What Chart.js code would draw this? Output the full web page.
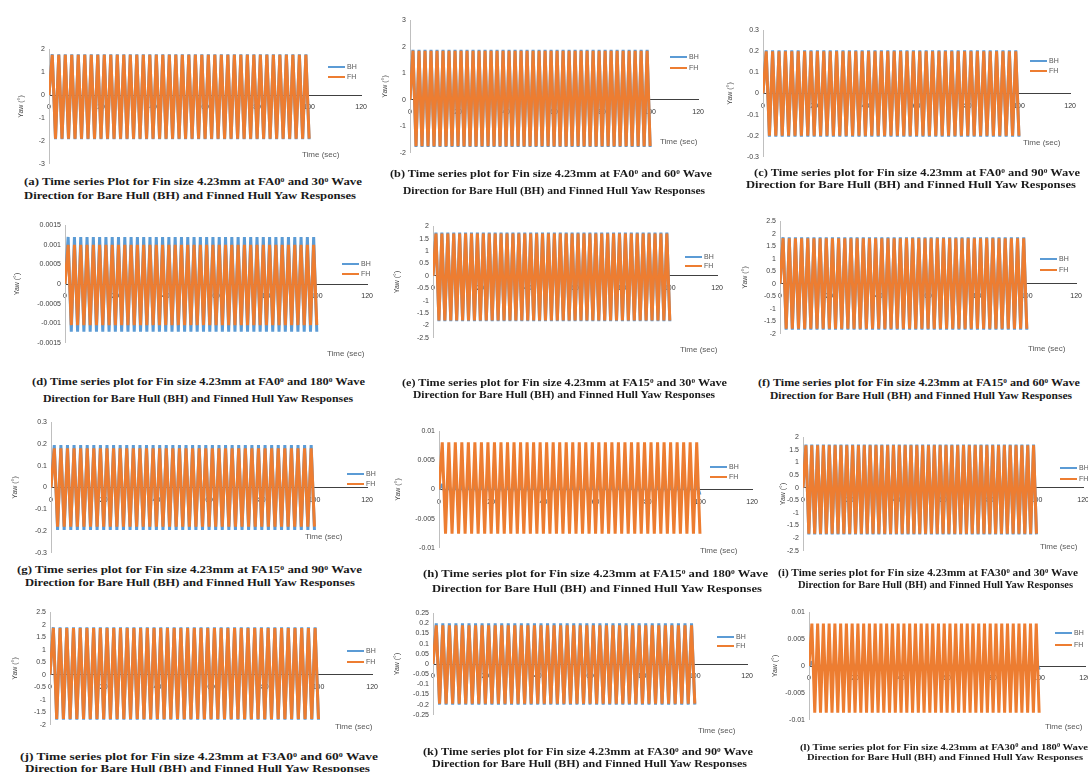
<!DOCTYPE html>
<html>
<head>
<meta charset="utf-8">
<script src="https://cdn.jsdelivr.net/npm/chart.js@4.4.1/dist/chart.umd.min.js"></script>
<style>
  html, body { margin: 0; padding: 0; background: #fff; }
  #page { width: 1088px; height: 772px; position: relative; overflow: hidden; }
  .cap { position: absolute; white-space: nowrap; font-family: "Liberation Serif", serif; font-weight: bold; color: #1a1a1a; transform-origin: 0 50%; line-height: 1; }
  .cap sup { font-size: 0.6em; vertical-align: 0.55em; line-height: 0; }
  .leg { position: absolute; font: 7px "Liberation Sans", sans-serif; color: #595959; line-height: 8px; white-space: nowrap; }
  .leg i { display: inline-block; width: 17px; height: 2px; vertical-align: middle; margin-right: 2px; }
  .tlab { position: absolute; font: 8px "Liberation Sans", sans-serif; color: #595959; white-space: nowrap; line-height: 8px; }
</style>
</head>
<body>
<div id="page"></div>
<script>
// time stamps (sec), one per half oscillation
const times = [0,1.25,2.5,3.75,5,6.25,7.5,8.75,10,11.25,12.5,13.75,15,16.25,17.5,18.75,20,21.25,22.5,23.75,
  25,26.25,27.5,28.75,30,31.25,32.5,33.75,35,36.25,37.5,38.75,40,41.25,42.5,43.75,45,46.25,47.5,48.75,
  50,51.25,52.5,53.75,55,56.25,57.5,58.75,60,61.25,62.5,63.75,65,66.25,67.5,68.75,70,71.25,72.5,73.75,
  75,76.25,77.5,78.75,80,81.25,82.5,83.75,85,86.25,87.5,88.75,90,91.25,92.5,93.75,95,96.25,97.5,98.75,100];

const xTicks = [0, 20, 40, 60, 80, 100, 120];
const aTicks = [-3, -2, -1, 0, 1, 2];
const bTicks = [-2, -1, 0, 1, 2, 3];
const cTicks = [-0.3, -0.2, -0.1, 0, 0.1, 0.2, 0.3];
const dTicks = [-0.0015, -0.001, -0.0005, 0, 0.0005, 0.001, 0.0015];
const eTicks = [-2.5, -2, -1.5, -1, -0.5, 0, 0.5, 1, 1.5, 2];
const fTicks = [-2, -1.5, -1, -0.5, 0, 0.5, 1, 1.5, 2, 2.5];
const gTicks = [-0.3, -0.2, -0.1, 0, 0.1, 0.2, 0.3];
const hTicks = [-0.01, -0.005, 0, 0.005, 0.01];
const iTicks = [-2.5, -2, -1.5, -1, -0.5, 0, 0.5, 1, 1.5, 2];
const jTicks = [-2, -1.5, -1, -0.5, 0, 0.5, 1, 1.5, 2, 2.5];
const kTicks = [-0.25, -0.2, -0.15, -0.1, -0.05, 0, 0.05, 0.1, 0.15, 0.2, 0.25];
const lTicks = [-0.01, -0.005, 0, 0.005, 0.01];

// yaw responses (deg), peaks
const aBH = [0,
  1.78,-1.93,1.78,-1.93,1.78,-1.93,1.78,-1.93,1.78,-1.93,1.78,-1.93,1.78,-1.93,1.78,-1.93,1.78,-1.93,1.78,-1.93,
  1.78,-1.93,1.78,-1.93,1.78,-1.93,1.78,-1.93,1.78,-1.93,1.78,-1.93,1.78,-1.93,1.78,-1.93,1.78,-1.93,1.78,-1.93,
  1.78,-1.93,1.78,-1.93,1.78,-1.93,1.78,-1.93,1.78,-1.93,1.78,-1.93,1.78,-1.93,1.78,-1.93,1.78,-1.93,1.78,-1.93,
  1.78,-1.93,1.78,-1.93,1.78,-1.93,1.78,-1.93,1.78,-1.93,1.78,-1.93,1.78,-1.93,1.78,-1.93,1.78,-1.93,1.78,-1.93];
const aFH = [0,
  1.75,-1.9,1.75,-1.9,1.75,-1.9,1.75,-1.9,1.75,-1.9,1.75,-1.9,1.75,-1.9,1.75,-1.9,1.75,-1.9,1.75,-1.9,
  1.75,-1.9,1.75,-1.9,1.75,-1.9,1.75,-1.9,1.75,-1.9,1.75,-1.9,1.75,-1.9,1.75,-1.9,1.75,-1.9,1.75,-1.9,
  1.75,-1.9,1.75,-1.9,1.75,-1.9,1.75,-1.9,1.75,-1.9,1.75,-1.9,1.75,-1.9,1.75,-1.9,1.75,-1.9,1.75,-1.9,
  1.75,-1.9,1.75,-1.9,1.75,-1.9,1.75,-1.9,1.75,-1.9,1.75,-1.9,1.75,-1.9,1.75,-1.9,1.75,-1.9,1.75,-1.9];
const bBH = [0,
  1.88,-1.78,1.88,-1.78,1.88,-1.78,1.88,-1.78,1.88,-1.78,1.88,-1.78,1.88,-1.78,1.88,-1.78,1.88,-1.78,1.88,-1.78,
  1.88,-1.78,1.88,-1.78,1.88,-1.78,1.88,-1.78,1.88,-1.78,1.88,-1.78,1.88,-1.78,1.88,-1.78,1.88,-1.78,1.88,-1.78,
  1.88,-1.78,1.88,-1.78,1.88,-1.78,1.88,-1.78,1.88,-1.78,1.88,-1.78,1.88,-1.78,1.88,-1.78,1.88,-1.78,1.88,-1.78,
  1.88,-1.78,1.88,-1.78,1.88,-1.78,1.88,-1.78,1.88,-1.78,1.88,-1.78,1.88,-1.78,1.88,-1.78,1.88,-1.78,1.88,-1.78];
const bFH = [0,
  1.85,-1.75,1.85,-1.75,1.85,-1.75,1.85,-1.75,1.85,-1.75,1.85,-1.75,1.85,-1.75,1.85,-1.75,1.85,-1.75,1.85,-1.75,
  1.85,-1.75,1.85,-1.75,1.85,-1.75,1.85,-1.75,1.85,-1.75,1.85,-1.75,1.85,-1.75,1.85,-1.75,1.85,-1.75,1.85,-1.75,
  1.85,-1.75,1.85,-1.75,1.85,-1.75,1.85,-1.75,1.85,-1.75,1.85,-1.75,1.85,-1.75,1.85,-1.75,1.85,-1.75,1.85,-1.75,
  1.85,-1.75,1.85,-1.75,1.85,-1.75,1.85,-1.75,1.85,-1.75,1.85,-1.75,1.85,-1.75,1.85,-1.75,1.85,-1.75,1.85,-1.75];
const cBH = [0,
  0.205,-0.205,0.205,-0.205,0.205,-0.205,0.205,-0.205,0.205,-0.205,0.205,-0.205,0.205,-0.205,0.205,-0.205,0.205,-0.205,0.205,-0.205,
  0.205,-0.205,0.205,-0.205,0.205,-0.205,0.205,-0.205,0.205,-0.205,0.205,-0.205,0.205,-0.205,0.205,-0.205,0.205,-0.205,0.205,-0.205,
  0.205,-0.205,0.205,-0.205,0.205,-0.205,0.205,-0.205,0.205,-0.205,0.205,-0.205,0.205,-0.205,0.205,-0.205,0.205,-0.205,0.205,-0.205,
  0.205,-0.205,0.205,-0.205,0.205,-0.205,0.205,-0.205,0.205,-0.205,0.205,-0.205,0.205,-0.205,0.205,-0.205,0.205,-0.205,0.205,-0.205];
const cFH = [0,
  0.2,-0.2,0.2,-0.2,0.2,-0.2,0.2,-0.2,0.2,-0.2,0.2,-0.2,0.2,-0.2,0.2,-0.2,0.2,-0.2,0.2,-0.2,
  0.2,-0.2,0.2,-0.2,0.2,-0.2,0.2,-0.2,0.2,-0.2,0.2,-0.2,0.2,-0.2,0.2,-0.2,0.2,-0.2,0.2,-0.2,
  0.2,-0.2,0.2,-0.2,0.2,-0.2,0.2,-0.2,0.2,-0.2,0.2,-0.2,0.2,-0.2,0.2,-0.2,0.2,-0.2,0.2,-0.2,
  0.2,-0.2,0.2,-0.2,0.2,-0.2,0.2,-0.2,0.2,-0.2,0.2,-0.2,0.2,-0.2,0.2,-0.2,0.2,-0.2,0.2,-0.2];
const dBH = [0,
  0.0012,-0.00122,0.0012,-0.00122,0.0012,-0.00122,0.0012,-0.00122,0.0012,-0.00122,0.0012,-0.00122,0.0012,-0.00122,0.0012,-0.00122,0.0012,-0.00122,0.0012,-0.00122,
  0.0012,-0.00122,0.0012,-0.00122,0.0012,-0.00122,0.0012,-0.00122,0.0012,-0.00122,0.0012,-0.00122,0.0012,-0.00122,0.0012,-0.00122,0.0012,-0.00122,0.0012,-0.00122,
  0.0012,-0.00122,0.0012,-0.00122,0.0012,-0.00122,0.0012,-0.00122,0.0012,-0.00122,0.0012,-0.00122,0.0012,-0.00122,0.0012,-0.00122,0.0012,-0.00122,0.0012,-0.00122,
  0.0012,-0.00122,0.0012,-0.00122,0.0012,-0.00122,0.0012,-0.00122,0.0012,-0.00122,0.0012,-0.00122,0.0012,-0.00122,0.0012,-0.00122,0.0012,-0.00122,0.0012,-0.00122];
const dFH = [0,
  0.001,-0.00105,0.001,-0.00105,0.001,-0.00105,0.001,-0.00105,0.001,-0.00105,0.001,-0.00105,0.001,-0.00105,0.001,-0.00105,0.001,-0.00105,0.001,-0.00105,
  0.001,-0.00105,0.001,-0.00105,0.001,-0.00105,0.001,-0.00105,0.001,-0.00105,0.001,-0.00105,0.001,-0.00105,0.001,-0.00105,0.001,-0.00105,0.001,-0.00105,
  0.001,-0.00105,0.001,-0.00105,0.001,-0.00105,0.001,-0.00105,0.001,-0.00105,0.001,-0.00105,0.001,-0.00105,0.001,-0.00105,0.001,-0.00105,0.001,-0.00105,
  0.001,-0.00105,0.001,-0.00105,0.001,-0.00105,0.001,-0.00105,0.001,-0.00105,0.001,-0.00105,0.001,-0.00105,0.001,-0.00105,0.001,-0.00105,0.001,-0.00105];
const eBH = [0,
  1.74,-1.83,1.74,-1.83,1.74,-1.83,1.74,-1.83,1.74,-1.83,1.74,-1.83,1.74,-1.83,1.74,-1.83,1.74,-1.83,1.74,-1.83,
  1.74,-1.83,1.74,-1.83,1.74,-1.83,1.74,-1.83,1.74,-1.83,1.74,-1.83,1.74,-1.83,1.74,-1.83,1.74,-1.83,1.74,-1.83,
  1.74,-1.83,1.74,-1.83,1.74,-1.83,1.74,-1.83,1.74,-1.83,1.74,-1.83,1.74,-1.83,1.74,-1.83,1.74,-1.83,1.74,-1.83,
  1.74,-1.83,1.74,-1.83,1.74,-1.83,1.74,-1.83,1.74,-1.83,1.74,-1.83,1.74,-1.83,1.74,-1.83,1.74,-1.83,1.74,-1.83];
const eFH = [0,
  1.7,-1.8,1.7,-1.8,1.7,-1.8,1.7,-1.8,1.7,-1.8,1.7,-1.8,1.7,-1.8,1.7,-1.8,1.7,-1.8,1.7,-1.8,
  1.7,-1.8,1.7,-1.8,1.7,-1.8,1.7,-1.8,1.7,-1.8,1.7,-1.8,1.7,-1.8,1.7,-1.8,1.7,-1.8,1.7,-1.8,
  1.7,-1.8,1.7,-1.8,1.7,-1.8,1.7,-1.8,1.7,-1.8,1.7,-1.8,1.7,-1.8,1.7,-1.8,1.7,-1.8,1.7,-1.8,
  1.7,-1.8,1.7,-1.8,1.7,-1.8,1.7,-1.8,1.7,-1.8,1.7,-1.8,1.7,-1.8,1.7,-1.8,1.7,-1.8,1.7,-1.8];
const fBH = [0,
  1.86,-1.84,1.86,-1.84,1.86,-1.84,1.86,-1.84,1.86,-1.84,1.86,-1.84,1.86,-1.84,1.86,-1.84,1.86,-1.84,1.86,-1.84,
  1.86,-1.84,1.86,-1.84,1.86,-1.84,1.86,-1.84,1.86,-1.84,1.86,-1.84,1.86,-1.84,1.86,-1.84,1.86,-1.84,1.86,-1.84,
  1.86,-1.84,1.86,-1.84,1.86,-1.84,1.86,-1.84,1.86,-1.84,1.86,-1.84,1.86,-1.84,1.86,-1.84,1.86,-1.84,1.86,-1.84,
  1.86,-1.84,1.86,-1.84,1.86,-1.84,1.86,-1.84,1.86,-1.84,1.86,-1.84,1.86,-1.84,1.86,-1.84,1.86,-1.84,1.86,-1.84];
const fFH = [0,
  1.82,-1.8,1.82,-1.8,1.82,-1.8,1.82,-1.8,1.82,-1.8,1.82,-1.8,1.82,-1.8,1.82,-1.8,1.82,-1.8,1.82,-1.8,
  1.82,-1.8,1.82,-1.8,1.82,-1.8,1.82,-1.8,1.82,-1.8,1.82,-1.8,1.82,-1.8,1.82,-1.8,1.82,-1.8,1.82,-1.8,
  1.82,-1.8,1.82,-1.8,1.82,-1.8,1.82,-1.8,1.82,-1.8,1.82,-1.8,1.82,-1.8,1.82,-1.8,1.82,-1.8,1.82,-1.8,
  1.82,-1.8,1.82,-1.8,1.82,-1.8,1.82,-1.8,1.82,-1.8,1.82,-1.8,1.82,-1.8,1.82,-1.8,1.82,-1.8,1.82,-1.8];
const gBH = [0,
  0.195,-0.195,0.195,-0.195,0.195,-0.195,0.195,-0.195,0.195,-0.195,0.195,-0.195,0.195,-0.195,0.195,-0.195,0.195,-0.195,0.195,-0.195,
  0.195,-0.195,0.195,-0.195,0.195,-0.195,0.195,-0.195,0.195,-0.195,0.195,-0.195,0.195,-0.195,0.195,-0.195,0.195,-0.195,0.195,-0.195,
  0.195,-0.195,0.195,-0.195,0.195,-0.195,0.195,-0.195,0.195,-0.195,0.195,-0.195,0.195,-0.195,0.195,-0.195,0.195,-0.195,0.195,-0.195,
  0.195,-0.195,0.195,-0.195,0.195,-0.195,0.195,-0.195,0.195,-0.195,0.195,-0.195,0.195,-0.195,0.195,-0.195,0.195,-0.195,0.195,-0.195];
const gFH = [0,
  0.18,-0.18,0.18,-0.18,0.18,-0.18,0.18,-0.18,0.18,-0.18,0.18,-0.18,0.18,-0.18,0.18,-0.18,0.18,-0.18,0.18,-0.18,
  0.18,-0.18,0.18,-0.18,0.18,-0.18,0.18,-0.18,0.18,-0.18,0.18,-0.18,0.18,-0.18,0.18,-0.18,0.18,-0.18,0.18,-0.18,
  0.18,-0.18,0.18,-0.18,0.18,-0.18,0.18,-0.18,0.18,-0.18,0.18,-0.18,0.18,-0.18,0.18,-0.18,0.18,-0.18,0.18,-0.18,
  0.18,-0.18,0.18,-0.18,0.18,-0.18,0.18,-0.18,0.18,-0.18,0.18,-0.18,0.18,-0.18,0.18,-0.18,0.18,-0.18,0.18,-0.18];
const hBH = [0,
  0.0009,-0.0009,0.0009,-0.0009,0.0009,-0.0009,0.0009,-0.0009,0.0009,-0.0009,0.0009,-0.0009,0.0009,-0.0009,0.0009,-0.0009,0.0009,-0.0009,0.0009,-0.0009,
  0.0009,-0.0009,0.0009,-0.0009,0.0009,-0.0009,0.0009,-0.0009,0.0009,-0.0009,0.0009,-0.0009,0.0009,-0.0009,0.0009,-0.0009,0.0009,-0.0009,0.0009,-0.0009,
  0.0009,-0.0009,0.0009,-0.0009,0.0009,-0.0009,0.0009,-0.0009,0.0009,-0.0009,0.0009,-0.0009,0.0009,-0.0009,0.0009,-0.0009,0.0009,-0.0009,0.0009,-0.0009,
  0.0009,-0.0009,0.0009,-0.0009,0.0009,-0.0009,0.0009,-0.0009,0.0009,-0.0009,0.0009,-0.0009,0.0009,-0.0009,0.0009,-0.0009,0.0009,-0.0009,0.0009,-0.0009];
const hFH = [0,
  0.0081,-0.0076,0.0081,-0.0076,0.0081,-0.0076,0.0081,-0.0076,0.0081,-0.0076,0.0081,-0.0076,0.0081,-0.0076,0.0081,-0.0076,0.0081,-0.0076,0.0081,-0.0076,
  0.0081,-0.0076,0.0081,-0.0076,0.0081,-0.0076,0.0081,-0.0076,0.0081,-0.0076,0.0081,-0.0076,0.0081,-0.0076,0.0081,-0.0076,0.0081,-0.0076,0.0081,-0.0076,
  0.0081,-0.0076,0.0081,-0.0076,0.0081,-0.0076,0.0081,-0.0076,0.0081,-0.0076,0.0081,-0.0076,0.0081,-0.0076,0.0081,-0.0076,0.0081,-0.0076,0.0081,-0.0076,
  0.0081,-0.0076,0.0081,-0.0076,0.0081,-0.0076,0.0081,-0.0076,0.0081,-0.0076,0.0081,-0.0076,0.0081,-0.0076,0.0081,-0.0076,0.0081,-0.0076,0.0081,-0.0076];
const iBH = [0,
  1.71,-1.85,1.71,-1.85,1.71,-1.85,1.71,-1.85,1.71,-1.85,1.71,-1.85,1.71,-1.85,1.71,-1.85,1.71,-1.85,1.71,-1.85,
  1.71,-1.85,1.71,-1.85,1.71,-1.85,1.71,-1.85,1.71,-1.85,1.71,-1.85,1.71,-1.85,1.71,-1.85,1.71,-1.85,1.71,-1.85,
  1.71,-1.85,1.71,-1.85,1.71,-1.85,1.71,-1.85,1.71,-1.85,1.71,-1.85,1.71,-1.85,1.71,-1.85,1.71,-1.85,1.71,-1.85,
  1.71,-1.85,1.71,-1.85,1.71,-1.85,1.71,-1.85,1.71,-1.85,1.71,-1.85,1.71,-1.85,1.71,-1.85,1.71,-1.85,1.71,-1.85];
const iFH = [0,
  1.68,-1.82,1.68,-1.82,1.68,-1.82,1.68,-1.82,1.68,-1.82,1.68,-1.82,1.68,-1.82,1.68,-1.82,1.68,-1.82,1.68,-1.82,
  1.68,-1.82,1.68,-1.82,1.68,-1.82,1.68,-1.82,1.68,-1.82,1.68,-1.82,1.68,-1.82,1.68,-1.82,1.68,-1.82,1.68,-1.82,
  1.68,-1.82,1.68,-1.82,1.68,-1.82,1.68,-1.82,1.68,-1.82,1.68,-1.82,1.68,-1.82,1.68,-1.82,1.68,-1.82,1.68,-1.82,
  1.68,-1.82,1.68,-1.82,1.68,-1.82,1.68,-1.82,1.68,-1.82,1.68,-1.82,1.68,-1.82,1.68,-1.82,1.68,-1.82,1.68,-1.82];
const jBH = [0,
  1.9,-1.8,1.9,-1.8,1.9,-1.8,1.9,-1.8,1.9,-1.8,1.9,-1.8,1.9,-1.8,1.9,-1.8,1.9,-1.8,1.9,-1.8,
  1.9,-1.8,1.9,-1.8,1.9,-1.8,1.9,-1.8,1.9,-1.8,1.9,-1.8,1.9,-1.8,1.9,-1.8,1.9,-1.8,1.9,-1.8,
  1.9,-1.8,1.9,-1.8,1.9,-1.8,1.9,-1.8,1.9,-1.8,1.9,-1.8,1.9,-1.8,1.9,-1.8,1.9,-1.8,1.9,-1.8,
  1.9,-1.8,1.9,-1.8,1.9,-1.8,1.9,-1.8,1.9,-1.8,1.9,-1.8,1.9,-1.8,1.9,-1.8,1.9,-1.8,1.9,-1.8];
const jFH = [0,
  1.87,-1.77,1.87,-1.77,1.87,-1.77,1.87,-1.77,1.87,-1.77,1.87,-1.77,1.87,-1.77,1.87,-1.77,1.87,-1.77,1.87,-1.77,
  1.87,-1.77,1.87,-1.77,1.87,-1.77,1.87,-1.77,1.87,-1.77,1.87,-1.77,1.87,-1.77,1.87,-1.77,1.87,-1.77,1.87,-1.77,
  1.87,-1.77,1.87,-1.77,1.87,-1.77,1.87,-1.77,1.87,-1.77,1.87,-1.77,1.87,-1.77,1.87,-1.77,1.87,-1.77,1.87,-1.77,
  1.87,-1.77,1.87,-1.77,1.87,-1.77,1.87,-1.77,1.87,-1.77,1.87,-1.77,1.87,-1.77,1.87,-1.77,1.87,-1.77,1.87,-1.77];
const kBH = [0,
  0.2,-0.2,0.2,-0.2,0.2,-0.2,0.2,-0.2,0.2,-0.2,0.2,-0.2,0.2,-0.2,0.2,-0.2,0.2,-0.2,0.2,-0.2,
  0.2,-0.2,0.2,-0.2,0.2,-0.2,0.2,-0.2,0.2,-0.2,0.2,-0.2,0.2,-0.2,0.2,-0.2,0.2,-0.2,0.2,-0.2,
  0.2,-0.2,0.2,-0.2,0.2,-0.2,0.2,-0.2,0.2,-0.2,0.2,-0.2,0.2,-0.2,0.2,-0.2,0.2,-0.2,0.2,-0.2,
  0.2,-0.2,0.2,-0.2,0.2,-0.2,0.2,-0.2,0.2,-0.2,0.2,-0.2,0.2,-0.2,0.2,-0.2,0.2,-0.2,0.2,-0.2];
const kFH = [0,
  0.19,-0.195,0.19,-0.195,0.19,-0.195,0.19,-0.195,0.19,-0.195,0.19,-0.195,0.19,-0.195,0.19,-0.195,0.19,-0.195,0.19,-0.195,
  0.19,-0.195,0.19,-0.195,0.19,-0.195,0.19,-0.195,0.19,-0.195,0.19,-0.195,0.19,-0.195,0.19,-0.195,0.19,-0.195,0.19,-0.195,
  0.19,-0.195,0.19,-0.195,0.19,-0.195,0.19,-0.195,0.19,-0.195,0.19,-0.195,0.19,-0.195,0.19,-0.195,0.19,-0.195,0.19,-0.195,
  0.19,-0.195,0.19,-0.195,0.19,-0.195,0.19,-0.195,0.19,-0.195,0.19,-0.195,0.19,-0.195,0.19,-0.195,0.19,-0.195,0.19,-0.195];
const lBH = [0,
  0.0008,-0.0007,0.0008,-0.0007,0.0008,-0.0007,0.0008,-0.0007,0.0008,-0.0007,0.0008,-0.0007,0.0008,-0.0007,0.0008,-0.0007,0.0008,-0.0007,0.0008,-0.0007,
  0.0008,-0.0007,0.0008,-0.0007,0.0008,-0.0007,0.0008,-0.0007,0.0008,-0.0007,0.0008,-0.0007,0.0008,-0.0007,0.0008,-0.0007,0.0008,-0.0007,0.0008,-0.0007,
  0.0008,-0.0007,0.0008,-0.0007,0.0008,-0.0007,0.0008,-0.0007,0.0008,-0.0007,0.0008,-0.0007,0.0008,-0.0007,0.0008,-0.0007,0.0008,-0.0007,0.0008,-0.0007,
  0.0008,-0.0007,0.0008,-0.0007,0.0008,-0.0007,0.0008,-0.0007,0.0008,-0.0007,0.0008,-0.0007,0.0008,-0.0007,0.0008,-0.0007,0.0008,-0.0007,0.0008,-0.0007];
const lFH = [0,
  0.0079,-0.0087,0.0079,-0.0087,0.0079,-0.0087,0.0079,-0.0087,0.0079,-0.0087,0.0079,-0.0087,0.0079,-0.0087,0.0079,-0.0087,0.0079,-0.0087,0.0079,-0.0087,
  0.0079,-0.0087,0.0079,-0.0087,0.0079,-0.0087,0.0079,-0.0087,0.0079,-0.0087,0.0079,-0.0087,0.0079,-0.0087,0.0079,-0.0087,0.0079,-0.0087,0.0079,-0.0087,
  0.0079,-0.0087,0.0079,-0.0087,0.0079,-0.0087,0.0079,-0.0087,0.0079,-0.0087,0.0079,-0.0087,0.0079,-0.0087,0.0079,-0.0087,0.0079,-0.0087,0.0079,-0.0087,
  0.0079,-0.0087,0.0079,-0.0087,0.0079,-0.0087,0.0079,-0.0087,0.0079,-0.0087,0.0079,-0.0087,0.0079,-0.0087,0.0079,-0.0087,0.0079,-0.0087,0.0079,-0.0087];

const line2 = 'Direction for Bare Hull (BH) and Finned Hull Yaw Responses';
const captions = [
  ['(a) Time series Plot for Fin size 4.23mm at FA0<sup>0</sup> and 30<sup>0</sup> Wave', line2],
  ['(b) Time series plot for Fin size 4.23mm at FA0<sup>0</sup> and 60<sup>0</sup> Wave', line2],
  ['(c) Time series plot for Fin size 4.23mm at FA0<sup>0</sup> and 90<sup>0</sup> Wave', line2],
  ['(d) Time series plot for Fin size 4.23mm at FA0<sup>0</sup> and 180<sup>0</sup> Wave', line2],
  ['(e) Time series plot for Fin size 4.23mm at FA15<sup>0</sup> and 30<sup>0</sup> Wave', line2],
  ['(f) Time series plot for Fin size 4.23mm at FA15<sup>0</sup> and 60<sup>0</sup> Wave', line2],
  ['(g) Time series plot for Fin size 4.23mm at FA15<sup>0</sup> and 90<sup>0</sup> Wave', line2],
  ['(h) Time series plot for Fin size 4.23mm at FA15<sup>0</sup> and 180<sup>0</sup> Wave', line2],
  ['(i) Time series plot for Fin size 4.23mm at FA30<sup>0</sup> and 30<sup>0</sup> Wave', line2],
  ['(j) Time series plot for Fin size 4.23mm at F3A0<sup>0</sup> and 60<sup>0</sup> Wave', line2],
  ['(k) Time series plot for Fin size 4.23mm at FA30<sup>0</sup> and 90<sup>0</sup> Wave', line2],
  ['(l) Time series plot for Fin size 4.23mm at FA30<sup>0</sup> and 180<sup>0</sup> Wave', line2]
];

const BH_COLOR = '#5B9BD5';
const FH_COLOR = '#ED7D31';

// where each small chart sits on the page (pixel positions of t=0, t=120, y max, y min)
const panels = [
  {bh: aBH, fh: aFH, ticks: aTicks, x0: 49,  x120: 365,  yTop: 47,  yBot: 166, titleX: 21,  leg: [328, 67, 77],   time: [302, 155],  cap: [[24, 182, 338, 10.5], [24, 196, 332, 10.5]]},
  {bh: bBH, fh: bFH, ticks: bTicks, x0: 410, x120: 702,  yTop: 18,  yBot: 155, titleX: 385, leg: [670, 57, 68],   time: [660, 142],  cap: [[390, 174, 322, 10.5], [403, 191, 302, 10.5]]},
  {bh: cBH, fh: cFH, ticks: cTicks, x0: 763, x120: 1074, yTop: 28,  yBot: 159, titleX: 730, leg: [1030, 61, 71],  time: [1023, 143], cap: [[754, 173, 326, 10], [746, 185, 330, 10]]},
  {bh: dBH, fh: dFH, ticks: dTicks, x0: 65,  x120: 371,  yTop: 223, yBot: 345, titleX: 17,  leg: [342, 264, 274], time: [327, 354],  cap: [[32, 382, 333, 10.5], [43, 399, 310, 10.5]]},
  {bh: eBH, fh: eFH, ticks: eTicks, x0: 433, x120: 721,  yTop: 224, yBot: 340, titleX: 397, leg: [685, 257, 266], time: [680, 350],  cap: [[402, 383, 325, 10], [413, 395, 302, 10]]},
  {bh: fBH, fh: fFH, ticks: fTicks, x0: 780, x120: 1080, yTop: 219, yBot: 336, titleX: 745, leg: [1040, 259, 270], time: [1028, 349], cap: [[758, 383, 322, 10], [770, 396, 302, 10]]},
  {bh: gBH, fh: gFH, ticks: gTicks, x0: 51,  x120: 371,  yTop: 420, yBot: 555, titleX: 15,  leg: [347, 474, 484], time: [305, 537],  cap: [[17, 570, 345, 10.5], [25, 583, 330, 10.5]]},
  {bh: hBH, fh: hFH, ticks: hTicks, x0: 439, x120: 756,  yTop: 429, yBot: 550, titleX: 398, leg: [710, 467, 477], time: [700, 551],  cap: [[423, 574, 345, 10.5], [432, 589, 330, 10.5]]},
  {bh: iBH, fh: iFH, ticks: iTicks, x0: 803, x120: 1087, yTop: 435, yBot: 553, titleX: 783, leg: [1060, 468, 479], time: [1040, 547], cap: [[778, 574, 300, 9.5], [798, 586, 275, 9.5]]},
  {bh: jBH, fh: jFH, ticks: jTicks, x0: 50,  x120: 376,  yTop: 610, yBot: 727, titleX: 15,  leg: [347, 651, 662], time: [335, 727],  cap: [[20, 757, 358, 10], [25, 769, 345, 10]]},
  {bh: kBH, fh: kFH, ticks: kTicks, x0: 433, x120: 751,  yTop: 611, yBot: 717, titleX: 397, leg: [717, 637, 646], time: [698, 731],  cap: [[423, 752, 330, 10], [432, 764, 315, 10]]},
  {bh: lBH, fh: lFH, ticks: lTicks, x0: 809, x120: 1089, yTop: 610, yBot: 722, titleX: 775, leg: [1055, 633, 645], time: [1045, 727], cap: [[800, 747, 288, 8.5], [807, 757, 276, 8.5]]}
];

const page = document.getElementById('page');
const tickFont = {family: 'Liberation Sans', size: 7};

function fmt(v) {
  return String(parseFloat(Number(v).toFixed(6)));
}

function addDiv(cls, html, left, top) {
  const el = document.createElement('div');
  el.className = cls;
  el.innerHTML = html;
  el.style.left = left + 'px';
  el.style.top = top + 'px';
  page.appendChild(el);
  return el;
}

const toFit = [];

panels.forEach(function(p, n) {
  const W = p.x0 - p.titleX + 8;
  const padT = 6, padB = 6, padR = 10;
  const width = W + (p.x120 - p.x0) + padR;
  const height = (p.yBot - p.yTop) + padT + padB;

  const canvas = document.createElement('canvas');
  canvas.width = width;
  canvas.height = height;
  canvas.style.cssText = 'position:absolute;left:' + (p.x0 - W) + 'px;top:' + (p.yTop - padT) + 'px;width:' + width + 'px;height:' + height + 'px';
  page.appendChild(canvas);

  new Chart(canvas, {
    type: 'line',
    data: {
      datasets: [
        {label: 'BH', data: times.map((t, i) => ({x: t, y: p.bh[i]})), borderColor: BH_COLOR, borderWidth: 3, borderJoinStyle: 'bevel', pointRadius: 0, order: 2},
        {label: 'FH', data: times.map((t, i) => ({x: t, y: p.fh[i]})), borderColor: FH_COLOR, borderWidth: 3, borderJoinStyle: 'bevel', pointRadius: 0, order: 1}
      ]
    },
    options: {
      responsive: false,
      animation: false,
      events: [],
      layout: {padding: {left: 0, top: padT, right: padR, bottom: padB}},
      plugins: {legend: {display: false}, tooltip: {enabled: false}},
      scales: {
        x: {
          type: 'linear', position: {y: 0}, min: 0, max: 120, z: 1,
          afterBuildTicks: s => { s.ticks = xTicks.map(v => ({value: v})); },
          grid: {display: false, drawTicks: false},
          border: {display: true, color: '#404040', width: 1},
          ticks: {padding: 8, color: '#333333', font: tickFont, maxRotation: 0, autoSkip: false, callback: v => fmt(v)}
        },
        y: {
          type: 'linear', position: 'left', min: p.ticks[0], max: p.ticks[p.ticks.length - 1],
          afterBuildTicks: s => { s.ticks = p.ticks.map(v => ({value: v})); },
          afterFit: s => { s.width = W; },
          grid: {display: false, drawTicks: false},
          border: {display: true, color: '#bfbfbf', width: 1},
          ticks: {padding: 4, color: '#404040', font: tickFont, autoSkip: false, callback: v => fmt(v)},
          title: {display: true, text: 'Yaw (°)', color: '#404040', font: tickFont, padding: {top: 4, bottom: 0}}
        }
      }
    }
  });

  // legend and axis label drawn as page text
  addDiv('leg', '<i style="background:' + BH_COLOR + '"></i>BH', p.leg[0], p.leg[1] - 4);
  addDiv('leg', '<i style="background:' + FH_COLOR + '"></i>FH', p.leg[0], p.leg[2] - 4);
  addDiv('tlab', 'Time (sec)', p.time[0], p.time[1] - 4);

  captions[n].forEach(function(txt, k) {
    const c = p.cap[k];
    const el = addDiv('cap', txt, c[0], c[1] - c[3] / 2);
    el.style.fontSize = c[3] + 'px';
    toFit.push([el, c[2]]);
  });
});

// stretch caption lines to the widths seen in the figure
toFit.forEach(function(item) {
  const w = item[0].getBoundingClientRect().width;
  item[0].style.transform = 'scaleX(' + (item[1] / w) + ')';
});
</script>
</body>
</html>
